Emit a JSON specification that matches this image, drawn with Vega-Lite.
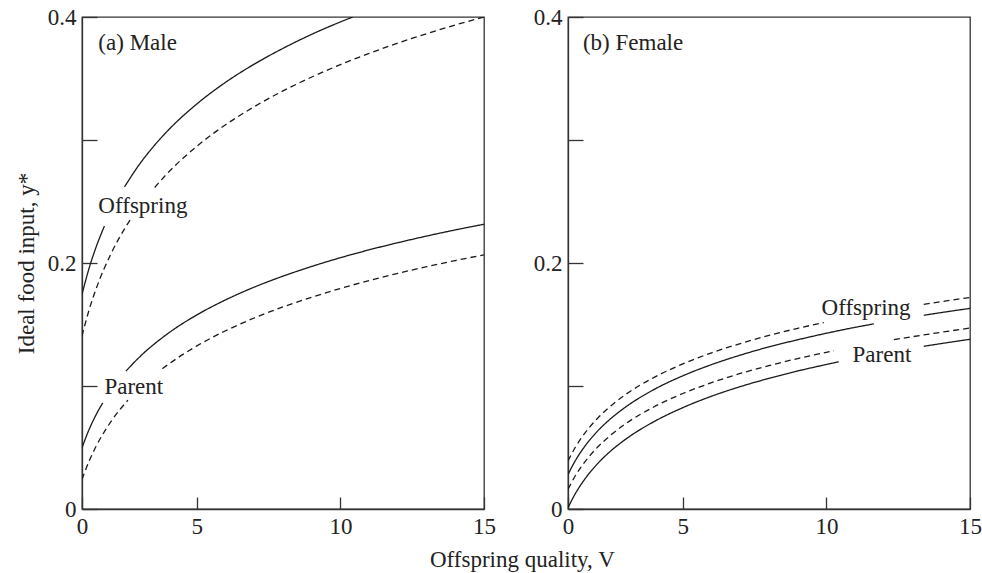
{
"$schema": "https://vega.github.io/schema/vega-lite/v6.json",
"background": "white",
"padding": {"left": 14, "top": 5, "right": 0, "bottom": 0},
"bounds": "flush",
"spacing": 84,
"config": {
  "font": "Liberation Serif",
  "view": {"stroke": "#333", "strokeWidth": 1.3},
  "axis": {"labelFont": "Liberation Serif", "labelFontSize": 23, "labelColor": "#222", "labelFlush": false, "titleFont": "Liberation Serif", "titleFontSize": 23, "titleFontWeight": "normal", "titleColor": "#222", "domainColor": "#333", "domainWidth": 1.3, "tickColor": "#333", "tickWidth": 1.3, "grid": false}
},
"title": {"text": "Offspring quality, V", "orient": "bottom", "anchor": "middle", "font": "Liberation Serif", "fontSize": 23, "fontWeight": "normal", "color": "#222", "offset": 10, "dx": 24},
"datasets": {
"curves": [
{"panel":"Male","curve":"Offspring","line":"1","seg":"M-O1-a","V":1,"y":0.1745},
{"panel":"Male","curve":"Offspring","line":"1","seg":"M-O1-a","V":1.25,"y":0.196},
{"panel":"Male","curve":"Offspring","line":"1","seg":"M-O1-a","V":1.5,"y":0.2135},
{"panel":"Male","curve":"Offspring","line":"1","seg":"M-O1-a","V":1.78,"y":0.23},
{"panel":"Male","curve":"Offspring","line":"1","seg":"M-O1-b","V":2.48,"y":0.2619},
{"panel":"Male","curve":"Offspring","line":"1","seg":"M-O1-b","V":3,"y":0.2802},
{"panel":"Male","curve":"Offspring","line":"1","seg":"M-O1-b","V":3.5,"y":0.295},
{"panel":"Male","curve":"Offspring","line":"1","seg":"M-O1-b","V":4,"y":0.3079},
{"panel":"Male","curve":"Offspring","line":"1","seg":"M-O1-b","V":5,"y":0.3293},
{"panel":"Male","curve":"Offspring","line":"1","seg":"M-O1-b","V":6,"y":0.3469},
{"panel":"Male","curve":"Offspring","line":"1","seg":"M-O1-b","V":7,"y":0.3617},
{"panel":"Male","curve":"Offspring","line":"1","seg":"M-O1-b","V":8,"y":0.3745},
{"panel":"Male","curve":"Offspring","line":"1","seg":"M-O1-b","V":9,"y":0.3859},
{"panel":"Male","curve":"Offspring","line":"1","seg":"M-O1-b","V":10,"y":0.396},
{"panel":"Male","curve":"Offspring","line":"1","seg":"M-O1-b","V":10.43,"y":0.4},
{"panel":"Male","curve":"Offspring","line":"2","seg":"M-O2-a","V":1,"y":0.1407},
{"panel":"Male","curve":"Offspring","line":"2","seg":"M-O2-a","V":1.25,"y":0.1621},
{"panel":"Male","curve":"Offspring","line":"2","seg":"M-O2-a","V":1.5,"y":0.1795},
{"panel":"Male","curve":"Offspring","line":"2","seg":"M-O2-a","V":2,"y":0.2071},
{"panel":"Male","curve":"Offspring","line":"2","seg":"M-O2-a","V":2.5,"y":0.2285},
{"panel":"Male","curve":"Offspring","line":"2","seg":"M-O2-a","V":2.72,"y":0.2366},
{"panel":"Male","curve":"Offspring","line":"2","seg":"M-O2-b","V":3.53,"y":0.2614},
{"panel":"Male","curve":"Offspring","line":"2","seg":"M-O2-b","V":4,"y":0.2735},
{"panel":"Male","curve":"Offspring","line":"2","seg":"M-O2-b","V":5,"y":0.2949},
{"panel":"Male","curve":"Offspring","line":"2","seg":"M-O2-b","V":6,"y":0.3124},
{"panel":"Male","curve":"Offspring","line":"2","seg":"M-O2-b","V":7,"y":0.3271},
{"panel":"Male","curve":"Offspring","line":"2","seg":"M-O2-b","V":8,"y":0.3399},
{"panel":"Male","curve":"Offspring","line":"2","seg":"M-O2-b","V":9,"y":0.3512},
{"panel":"Male","curve":"Offspring","line":"2","seg":"M-O2-b","V":10,"y":0.3613},
{"panel":"Male","curve":"Offspring","line":"2","seg":"M-O2-b","V":11,"y":0.3704},
{"panel":"Male","curve":"Offspring","line":"2","seg":"M-O2-b","V":12,"y":0.3788},
{"panel":"Male","curve":"Offspring","line":"2","seg":"M-O2-b","V":13,"y":0.3864},
{"panel":"Male","curve":"Offspring","line":"2","seg":"M-O2-b","V":14,"y":0.3935},
{"panel":"Male","curve":"Offspring","line":"2","seg":"M-O2-b","V":15,"y":0.4},
{"panel":"Male","curve":"Parent","line":"1","seg":"M-P1-a","V":1,"y":0.0498},
{"panel":"Male","curve":"Parent","line":"1","seg":"M-P1-a","V":1.25,"y":0.0648},
{"panel":"Male","curve":"Parent","line":"1","seg":"M-P1-a","V":1.5,"y":0.077},
{"panel":"Male","curve":"Parent","line":"1","seg":"M-P1-a","V":1.72,"y":0.0862},
{"panel":"Male","curve":"Parent","line":"1","seg":"M-P1-b","V":2.53,"y":0.1121},
{"panel":"Male","curve":"Parent","line":"1","seg":"M-P1-b","V":3,"y":0.1235},
{"panel":"Male","curve":"Parent","line":"1","seg":"M-P1-b","V":4,"y":0.1428},
{"panel":"Male","curve":"Parent","line":"1","seg":"M-P1-b","V":5,"y":0.1578},
{"panel":"Male","curve":"Parent","line":"1","seg":"M-P1-b","V":6,"y":0.17},
{"panel":"Male","curve":"Parent","line":"1","seg":"M-P1-b","V":7,"y":0.1804},
{"panel":"Male","curve":"Parent","line":"1","seg":"M-P1-b","V":8,"y":0.1893},
{"panel":"Male","curve":"Parent","line":"1","seg":"M-P1-b","V":9,"y":0.1972},
{"panel":"Male","curve":"Parent","line":"1","seg":"M-P1-b","V":10,"y":0.2043},
{"panel":"Male","curve":"Parent","line":"1","seg":"M-P1-b","V":11,"y":0.2107},
{"panel":"Male","curve":"Parent","line":"1","seg":"M-P1-b","V":12,"y":0.2165},
{"panel":"Male","curve":"Parent","line":"1","seg":"M-P1-b","V":13,"y":0.2219},
{"panel":"Male","curve":"Parent","line":"1","seg":"M-P1-b","V":14,"y":0.2269},
{"panel":"Male","curve":"Parent","line":"1","seg":"M-P1-b","V":15,"y":0.2315},
{"panel":"Male","curve":"Parent","line":"2","seg":"M-P2-a","V":1,"y":0.0241},
{"panel":"Male","curve":"Parent","line":"2","seg":"M-P2-a","V":1.25,"y":0.0391},
{"panel":"Male","curve":"Parent","line":"2","seg":"M-P2-a","V":1.5,"y":0.0514},
{"panel":"Male","curve":"Parent","line":"2","seg":"M-P2-a","V":2,"y":0.0708},
{"panel":"Male","curve":"Parent","line":"2","seg":"M-P2-a","V":2.6,"y":0.0885},
{"panel":"Male","curve":"Parent","line":"2","seg":"M-P2-b","V":3.8,"y":0.1141},
{"panel":"Male","curve":"Parent","line":"2","seg":"M-P2-b","V":4,"y":0.1175},
{"panel":"Male","curve":"Parent","line":"2","seg":"M-P2-b","V":5,"y":0.1326},
{"panel":"Male","curve":"Parent","line":"2","seg":"M-P2-b","V":6,"y":0.1449},
{"panel":"Male","curve":"Parent","line":"2","seg":"M-P2-b","V":7,"y":0.1553},
{"panel":"Male","curve":"Parent","line":"2","seg":"M-P2-b","V":8,"y":0.1643},
{"panel":"Male","curve":"Parent","line":"2","seg":"M-P2-b","V":9,"y":0.1722},
{"panel":"Male","curve":"Parent","line":"2","seg":"M-P2-b","V":10,"y":0.1793},
{"panel":"Male","curve":"Parent","line":"2","seg":"M-P2-b","V":11,"y":0.1857},
{"panel":"Male","curve":"Parent","line":"2","seg":"M-P2-b","V":12,"y":0.1916},
{"panel":"Male","curve":"Parent","line":"2","seg":"M-P2-b","V":13,"y":0.197},
{"panel":"Male","curve":"Parent","line":"2","seg":"M-P2-b","V":14,"y":0.202},
{"panel":"Male","curve":"Parent","line":"2","seg":"M-P2-b","V":15,"y":0.2066},
{"panel":"Female","curve":"Offspring","line":"2","seg":"F-O2-a","V":1,"y":0.039},
{"panel":"Female","curve":"Offspring","line":"2","seg":"F-O2-a","V":1.25,"y":0.05},
{"panel":"Female","curve":"Offspring","line":"2","seg":"F-O2-a","V":1.5,"y":0.0589},
{"panel":"Female","curve":"Offspring","line":"2","seg":"F-O2-a","V":2,"y":0.073},
{"panel":"Female","curve":"Offspring","line":"2","seg":"F-O2-a","V":2.5,"y":0.084},
{"panel":"Female","curve":"Offspring","line":"2","seg":"F-O2-a","V":3,"y":0.093},
{"panel":"Female","curve":"Offspring","line":"2","seg":"F-O2-a","V":4,"y":0.107},
{"panel":"Female","curve":"Offspring","line":"2","seg":"F-O2-a","V":5,"y":0.118},
{"panel":"Female","curve":"Offspring","line":"2","seg":"F-O2-a","V":6,"y":0.127},
{"panel":"Female","curve":"Offspring","line":"2","seg":"F-O2-a","V":7,"y":0.1345},
{"panel":"Female","curve":"Offspring","line":"2","seg":"F-O2-a","V":8,"y":0.1411},
{"panel":"Female","curve":"Offspring","line":"2","seg":"F-O2-a","V":9,"y":0.1469},
{"panel":"Female","curve":"Offspring","line":"2","seg":"F-O2-a","V":9.91,"y":0.1516},
{"panel":"Female","curve":"Offspring","line":"2","seg":"F-O2-b","V":13.39,"y":0.1664},
{"panel":"Female","curve":"Offspring","line":"2","seg":"F-O2-b","V":14,"y":0.1686},
{"panel":"Female","curve":"Offspring","line":"2","seg":"F-O2-b","V":15,"y":0.172},
{"panel":"Female","curve":"Offspring","line":"1","seg":"F-O1-a","V":1,"y":0.028},
{"panel":"Female","curve":"Offspring","line":"1","seg":"F-O1-a","V":1.25,"y":0.0391},
{"panel":"Female","curve":"Offspring","line":"1","seg":"F-O1-a","V":1.5,"y":0.0482},
{"panel":"Female","curve":"Offspring","line":"1","seg":"F-O1-a","V":2,"y":0.0626},
{"panel":"Female","curve":"Offspring","line":"1","seg":"F-O1-a","V":2.5,"y":0.0737},
{"panel":"Female","curve":"Offspring","line":"1","seg":"F-O1-a","V":3,"y":0.0828},
{"panel":"Female","curve":"Offspring","line":"1","seg":"F-O1-a","V":4,"y":0.0972},
{"panel":"Female","curve":"Offspring","line":"1","seg":"F-O1-a","V":5,"y":0.1083},
{"panel":"Female","curve":"Offspring","line":"1","seg":"F-O1-a","V":6,"y":0.1174},
{"panel":"Female","curve":"Offspring","line":"1","seg":"F-O1-a","V":7,"y":0.1251},
{"panel":"Female","curve":"Offspring","line":"1","seg":"F-O1-a","V":8,"y":0.1318},
{"panel":"Female","curve":"Offspring","line":"1","seg":"F-O1-a","V":9,"y":0.1376},
{"panel":"Female","curve":"Offspring","line":"1","seg":"F-O1-a","V":10,"y":0.1429},
{"panel":"Female","curve":"Offspring","line":"1","seg":"F-O1-a","V":11,"y":0.1477},
{"panel":"Female","curve":"Offspring","line":"1","seg":"F-O1-a","V":11.65,"y":0.1505},
{"panel":"Female","curve":"Offspring","line":"1","seg":"F-O1-b","V":13.39,"y":0.1575},
{"panel":"Female","curve":"Offspring","line":"1","seg":"F-O1-b","V":14,"y":0.1597},
{"panel":"Female","curve":"Offspring","line":"1","seg":"F-O1-b","V":15,"y":0.1631},
{"panel":"Female","curve":"Parent","line":"2","seg":"F-P2-a","V":1,"y":0.016},
{"panel":"Female","curve":"Parent","line":"2","seg":"F-P2-a","V":1.25,"y":0.0268},
{"panel":"Female","curve":"Parent","line":"2","seg":"F-P2-a","V":1.5,"y":0.0356},
{"panel":"Female","curve":"Parent","line":"2","seg":"F-P2-a","V":2,"y":0.0495},
{"panel":"Female","curve":"Parent","line":"2","seg":"F-P2-a","V":2.5,"y":0.0603},
{"panel":"Female","curve":"Parent","line":"2","seg":"F-P2-a","V":3,"y":0.0692},
{"panel":"Female","curve":"Parent","line":"2","seg":"F-P2-a","V":4,"y":0.0831},
{"panel":"Female","curve":"Parent","line":"2","seg":"F-P2-a","V":5,"y":0.0939},
{"panel":"Female","curve":"Parent","line":"2","seg":"F-P2-a","V":6,"y":0.1027},
{"panel":"Female","curve":"Parent","line":"2","seg":"F-P2-a","V":7,"y":0.1102},
{"panel":"Female","curve":"Parent","line":"2","seg":"F-P2-a","V":8,"y":0.1166},
{"panel":"Female","curve":"Parent","line":"2","seg":"F-P2-a","V":9,"y":0.1223},
{"panel":"Female","curve":"Parent","line":"2","seg":"F-P2-a","V":10,"y":0.1274},
{"panel":"Female","curve":"Parent","line":"2","seg":"F-P2-a","V":10.26,"y":0.1287},
{"panel":"Female","curve":"Parent","line":"2","seg":"F-P2-b","V":12.35,"y":0.1377},
{"panel":"Female","curve":"Parent","line":"2","seg":"F-P2-b","V":13,"y":0.1401},
{"panel":"Female","curve":"Parent","line":"2","seg":"F-P2-b","V":14,"y":0.1437},
{"panel":"Female","curve":"Parent","line":"2","seg":"F-P2-b","V":15,"y":0.1471},
{"panel":"Female","curve":"Parent","line":"1","seg":"F-P1-a","V":1,"y":0.001},
{"panel":"Female","curve":"Parent","line":"1","seg":"F-P1-a","V":1.25,"y":0.0123},
{"panel":"Female","curve":"Parent","line":"1","seg":"F-P1-a","V":1.5,"y":0.0215},
{"panel":"Female","curve":"Parent","line":"1","seg":"F-P1-a","V":2,"y":0.0361},
{"panel":"Female","curve":"Parent","line":"1","seg":"F-P1-a","V":2.5,"y":0.0474},
{"panel":"Female","curve":"Parent","line":"1","seg":"F-P1-a","V":3,"y":0.0566},
{"panel":"Female","curve":"Parent","line":"1","seg":"F-P1-a","V":4,"y":0.0711},
{"panel":"Female","curve":"Parent","line":"1","seg":"F-P1-a","V":5,"y":0.0824},
{"panel":"Female","curve":"Parent","line":"1","seg":"F-P1-a","V":6,"y":0.0917},
{"panel":"Female","curve":"Parent","line":"1","seg":"F-P1-a","V":7,"y":0.0995},
{"panel":"Female","curve":"Parent","line":"1","seg":"F-P1-a","V":8,"y":0.1062},
{"panel":"Female","curve":"Parent","line":"1","seg":"F-P1-a","V":9,"y":0.1122},
{"panel":"Female","curve":"Parent","line":"1","seg":"F-P1-a","V":10,"y":0.1175},
{"panel":"Female","curve":"Parent","line":"1","seg":"F-P1-a","V":10.43,"y":0.1197},
{"panel":"Female","curve":"Parent","line":"1","seg":"F-P1-b","V":13.39,"y":0.1323},
{"panel":"Female","curve":"Parent","line":"1","seg":"F-P1-b","V":14,"y":0.1345},
{"panel":"Female","curve":"Parent","line":"1","seg":"F-P1-b","V":15,"y":0.138}
],
"labels": [
{"panel":"Male","text":"(a) Male","V":1.57,"y":0.379},
{"panel":"Male","text":"Offspring","V":1.57,"y":0.2463},
{"panel":"Male","text":"Parent","V":1.78,"y":0.0992},
{"panel":"Female","text":"(b) Female","V":1.52,"y":0.379},
{"panel":"Female","text":"Offspring","V":9.83,"y":0.1634},
{"panel":"Female","text":"Parent","V":10.91,"y":0.1256}
]
},
"hconcat": [
{
 "width": 402, "height": 492,
 "layer": [
  {"data": {"name": "curves"}, "transform": [{"filter": "datum.panel == 'Male'"}],
   "mark": {"type": "line", "interpolate": "monotone", "strokeWidth": 1.3, "color": "#1a1a1a", "clip": true},
   "encoding": {
     "x": {"field": "V", "type": "quantitative", "scale": {"domain": [1, 15], "nice": false, "zero": false},
           "axis": {"title": null, "values": [1, 5, 10, 15], "labelExpr": "datum.value == 1 ? '0' : datum.label", "tickSize": -12, "labelPadding": 18}},
     "y": {"field": "y", "type": "quantitative", "scale": {"domain": [0, 0.4], "nice": false},
           "axis": {"title": "Ideal food input, y*", "titlePadding": 9, "values": [0, 0.1, 0.2, 0.3, 0.4], "labelExpr": "datum.value == 0 ? '0' : (datum.value == 0.2 || datum.value == 0.4) ? format(datum.value, '.1f') : ''", "tickSize": -15, "labelPadding": 21}},
     "detail": {"field": "seg"},
     "strokeDash": {"field": "line", "type": "nominal", "scale": {"domain": ["1", "2"], "range": [[1, 0], [6, 4]]}, "legend": null},
     "order": {"field": "V"}
   }},
  {"data": {"name": "labels"}, "transform": [{"filter": "datum.panel == 'Male'"}],
   "mark": {"type": "text", "font": "Liberation Serif", "fontSize": 23, "color": "#222", "align": "left", "baseline": "middle"},
   "encoding": {"x": {"field": "V", "type": "quantitative"}, "y": {"field": "y", "type": "quantitative"}, "text": {"field": "text"}}}
 ]
},
{
 "width": 402, "height": 492,
 "layer": [
  {"data": {"name": "curves"}, "transform": [{"filter": "datum.panel == 'Female'"}],
   "mark": {"type": "line", "interpolate": "monotone", "strokeWidth": 1.3, "color": "#1a1a1a", "clip": true},
   "encoding": {
     "x": {"field": "V", "type": "quantitative", "scale": {"domain": [1, 15], "nice": false, "zero": false},
           "axis": {"title": null, "values": [1, 5, 10, 15], "labelExpr": "datum.value == 1 ? '0' : datum.label", "tickSize": -12, "labelPadding": 18}},
     "y": {"field": "y", "type": "quantitative", "scale": {"domain": [0, 0.4], "nice": false},
           "axis": {"title": null, "values": [0, 0.1, 0.2, 0.3, 0.4], "labelExpr": "datum.value == 0 ? '0' : (datum.value == 0.2 || datum.value == 0.4) ? format(datum.value, '.1f') : ''", "tickSize": -15, "labelPadding": 21}},
     "detail": {"field": "seg"},
     "strokeDash": {"field": "line", "type": "nominal", "scale": {"domain": ["1", "2"], "range": [[1, 0], [6, 4]]}, "legend": null},
     "order": {"field": "V"}
   }},
  {"data": {"name": "labels"}, "transform": [{"filter": "datum.panel == 'Female'"}],
   "mark": {"type": "text", "font": "Liberation Serif", "fontSize": 23, "color": "#222", "align": "left", "baseline": "middle"},
   "encoding": {"x": {"field": "V", "type": "quantitative"}, "y": {"field": "y", "type": "quantitative"}, "text": {"field": "text"}}}
 ]
}
]
}
